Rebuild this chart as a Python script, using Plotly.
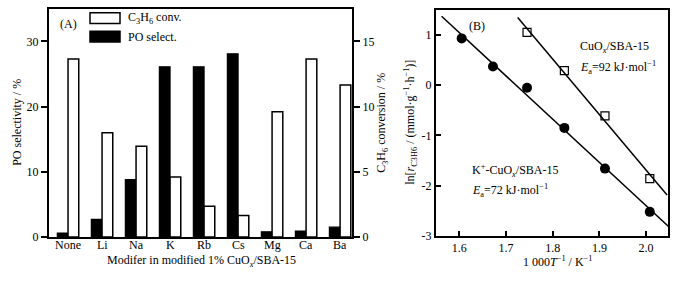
import numpy as np
import plotly.graph_objects as go

# ---- Panel A data ----
modifiers = ["None", "Li", "Na", "K", "Rb", "Cs", "Mg", "Ca", "Ba"]
po_select = [0.6, 2.7, 8.8, 26.1, 26.1, 28.1, 0.8, 0.9, 1.5]
c3h6_conv = [13.65, 8.0, 6.95, 4.6, 2.35, 1.65, 9.6, 13.65, 11.65]

# ---- Panel B data ----
inv_T = [1.605, 1.672, 1.745, 1.825, 1.912, 2.008]
ln_r_k = [0.93, 0.37, -0.05, -0.85, -1.66, -2.52]
inv_T_cu = [1.745, 1.825, 1.912, 2.008]
ln_r_cu = [1.05, 0.29, -0.61, -1.86]
fit_span_k = [1.562, 2.05]
fit_span_cu = [1.725, 2.045]

W, H = 690, 281
FONT = "Liberation Serif"


def fx(px):
    return px / W


def fy(py):
    return 1 - py / H


fig = go.Figure()

fig.add_trace(go.Bar(x=modifiers, y=po_select, name="PO select.",
                     marker=dict(color="black", line=dict(color="black", width=1.2)),
                     offsetgroup="po", xaxis="x", yaxis="y", showlegend=False))
fig.add_trace(go.Bar(x=modifiers, y=c3h6_conv, name="C3H6 conv.",
                     marker=dict(color="white", line=dict(color="black", width=1.5)),
                     offsetgroup="conv", xaxis="x", yaxis="y2", showlegend=False))

# fits
pk = np.polyfit(inv_T, ln_r_k, 1)
pc = np.polyfit(inv_T_cu, ln_r_cu, 1)
fig.add_trace(go.Scatter(x=fit_span_k, y=list(np.polyval(pk, fit_span_k)), mode="lines",
                         line=dict(color="black", width=1.5), xaxis="x2", yaxis="y3",
                         showlegend=False))
fig.add_trace(go.Scatter(x=fit_span_cu, y=list(np.polyval(pc, fit_span_cu)), mode="lines",
                         line=dict(color="black", width=1.5), xaxis="x2", yaxis="y3",
                         showlegend=False))
fig.add_trace(go.Scatter(x=inv_T, y=ln_r_k, mode="markers",
                         marker=dict(symbol="circle", size=10, color="black"),
                         xaxis="x2", yaxis="y3", showlegend=False))
fig.add_trace(go.Scatter(x=inv_T_cu, y=ln_r_cu, mode="markers",
                         marker=dict(symbol="square-open", size=8, color="black",
                                     line=dict(width=1.2)),
                         xaxis="x2", yaxis="y3", showlegend=False))

tickfont = dict(family=FONT, size=12, color="black")
axA_dom_x = [fx(49), fx(352)]
axA_dom_y = [fy(243), fy(9)]
axB_dom_x = [fx(436), fx(668)]
axB_dom_y = [fy(242), fy(10)]

fig.update_layout(
    width=W, height=H,
    margin=dict(l=0, r=0, t=0, b=0),
    paper_bgcolor="white", plot_bgcolor="white",
    font=dict(family=FONT, size=12, color="black"),
    barmode="group", bargap=0.37, bargroupgap=0.0,
    xaxis=dict(domain=axA_dom_x, anchor="y", type="category", range=[-0.56, 8.35],
               showline=True, linecolor="black", linewidth=2, mirror=True,
               ticks="", showticklabels=False, showgrid=False, zeroline=False),
    yaxis=dict(domain=axA_dom_y, anchor="x", range=[0, 35], tickvals=[0, 10, 20, 30],
               showline=True, linecolor="black", linewidth=2,
               ticks="outside", ticklen=6, tickwidth=2, tickcolor="black",
               tickfont=tickfont, showgrid=False, zeroline=False),
    yaxis2=dict(overlaying="y", side="right", anchor="x", range=[0, 17.5],
                tickvals=[0, 5, 10, 15],
                showline=True, linecolor="black", linewidth=2,
                ticks="outside", ticklen=6, tickwidth=2, tickcolor="black",
                tickfont=tickfont, showgrid=False, zeroline=False),
    xaxis2=dict(domain=axB_dom_x, anchor="y3", range=[1.55, 2.047],
                tickvals=[1.6, 1.7, 1.8, 1.9, 2.0], ticktext=["1.6", "1.7", "1.8", "1.9", "2.0"],
                showline=True, linecolor="black", linewidth=2, mirror=True,
                ticks="inside", ticklen=5, tickwidth=1.5, tickcolor="black",
                tickfont=tickfont, showgrid=False, zeroline=False),
    yaxis3=dict(domain=axB_dom_y, anchor="x2", range=[-3, 1.5],
                tickvals=[-3, -2, -1, 0, 1], ticktext=["-3", "-2", "-1", "0", "1"],
                showline=True, linecolor="black", linewidth=2, mirror=True,
                ticks="inside", ticklen=5, tickwidth=1.5, tickcolor="black",
                tickfont=tickfont, showgrid=False, zeroline=False),
)

# custom legend for panel A
fig.add_shape(type="rect", xref="paper", yref="paper",
              x0=fx(90), x1=fx(120), y0=fy(24), y1=fy(13),
              fillcolor="white", line=dict(color="black", width=1.5))
fig.add_shape(type="rect", xref="paper", yref="paper",
              x0=fx(90), x1=fx(120), y0=fy(43), y1=fy(32),
              fillcolor="black", line=dict(color="black", width=1.5))

ann = []


def add_text(text, x, y, xanchor="center", angle=0, size=12):
    ann.append(dict(text=text, x=fx(x), y=fy(y), xref="paper", yref="paper",
                    xanchor=xanchor, yanchor="middle", showarrow=False, textangle=angle,
                    font=dict(family=FONT, size=size, color="black")))


# category labels (from the data list), placed just below panel A's axis
for m in modifiers:
    ann.append(dict(text=m, x=m, y=fy(251), xref="x", yref="paper",
                    xanchor="center", yanchor="middle", showarrow=False,
                    font=dict(family=FONT, size=12, color="black")))

add_text("C<sub>3</sub>H<sub>6</sub> conv.", 126, 18, xanchor="left")
add_text("PO select.", 126, 38, xanchor="left")
add_text("(A)", 68, 25)
add_text("PO selectivity / %", 17, 126, angle=-90)
add_text("C<sub>3</sub>H<sub>6</sub> conversion / %", 382, 126, angle=-90)
add_text("Modifer in modified 1% CuO<sub><i>x</i></sub>/SBA-15", 201, 268)

add_text("(B)", 477, 27)
add_text("CuO<sub><i>x</i></sub>/SBA-15", 578, 48, xanchor="left")
add_text("<i>E</i><sub>a</sub>=92 kJ·mol<sup>−1</sup>", 578, 69, xanchor="left")
add_text("K<sup>+</sup>-CuO<sub><i>x</i></sub>/SBA-15", 470, 175, xanchor="left")
add_text("<i>E</i><sub>a</sub>=72 kJ·mol<sup>−1</sup>", 470, 195, xanchor="left")
add_text("ln[<i>r</i><sub>C3H6</sub> / (mmol·g<sup>−1</sup>·h<sup>−1</sup>)]", 411, 126, angle=-90)
add_text("1 000<i>T</i><sup>−1</sup> / K<sup>−1</sup>", 558, 268)

fig.update_layout(annotations=ann)

fig.write_html("out.html", post_script="document.body.style.margin='0';",
               config={"displayModeBar": False})
